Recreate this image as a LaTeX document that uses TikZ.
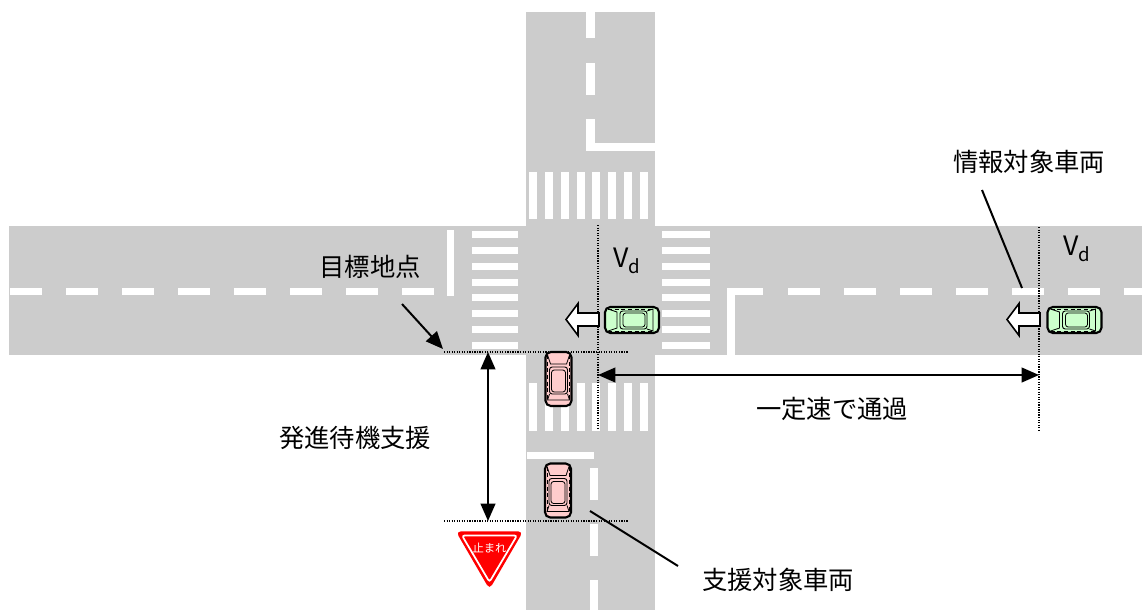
\documentclass[tikz,border=0pt]{standalone}
\usepackage{fontspec}
\newfontfamily\jpfont{Noto Sans CJK JP}
\usetikzlibrary{arrows.meta}

\definecolor{roadgray}{HTML}{CCCCCC}
\definecolor{cargreen}{HTML}{CCFFCC}
\definecolor{carpink}{HTML}{FFCCCC}
\definecolor{signred}{HTML}{FF0000}

\tikzset{
  paint/.style={fill=white},
  guide/.style={densely dotted,line width=0.9pt},
  dimline/.style={line width=1.5pt,{Triangle[length=13pt,width=11pt]}-{Triangle[length=13pt,width=11pt]}},
  leader/.style={line width=1.5pt},
  jlabel/.style={font=\jpfont\fontsize{19}{22}\selectfont,inner sep=0pt},
  vlabel/.style={font=\jpfont\fontsize{20}{24}\selectfont,inner sep=0pt},
  % car seen from above, front pointing to -x
  pics/car/.style={code={
    \draw[line width=1.6pt,fill=#1,rounded corners=4pt] (-27,-13) rectangle (27,13);
    \draw[line width=0.6pt] (-24,-11) -- (-15,-8) -- (-15,8) -- (-24,11);
    \draw[line width=0.7pt,rounded corners=2pt] (-12,-9) rectangle (15,9);
    \draw[line width=0.6pt,rounded corners=2pt] (-9,-7) rectangle (13,7);
    \draw[line width=0.6pt] (15,-9) -- (21,-11) -- (21,11) -- (15,9);
    \draw[line width=0.5pt,densely dashed] (-24,-11) -- (21,-11) (-24,11) -- (21,11);
  }},
  % hollow arrow showing the direction of travel
  pics/flowarrow/.style={code={
    \filldraw[fill=white,line width=1.2pt,line join=miter]
      (0,-6.5) -- (-21,-6.5) -- (-21,-16) -- (-33,0) -- (-21,16) -- (-21,6.5) -- (0,6.5) -- cycle;
  }}
}

\begin{document}
\begin{tikzpicture}[x=0.75pt,y=-0.75pt]
\useasboundingbox (0,0) rectangle (1142,610);

% roads
\fill[roadgray] (9,226) rectangle (1142,355);
\fill[roadgray] (526,12) rectangle (655,610);

% centre lines, west and east
\foreach \x in {10,66,...,402}
  \fill[paint] (\x,288) rectangle +(32,7);
\foreach \x in {788,844,...,1068}
  \fill[paint] (\x,288) rectangle +(32,7);
\fill[paint] (1124,288) rectangle (1142,295);
\fill[paint] (447,230) rectangle (454,296);
\fill[paint] (727,288) rectangle (735,355);
\fill[paint] (727,288) rectangle (763,295);

% centre lines, north and south
\fill[paint] (586,12) rectangle (595,38);
\fill[paint] (586,63) rectangle (595,95);
\fill[paint] (586,119) rectangle (595,151);
\fill[paint] (586,143) rectangle (655,151);
\fill[paint] (527,452) rectangle (594,459);
\foreach \y in {468,524}
  \fill[paint] (590,\y) rectangle +(8,32);
\fill[paint] (590,580) rectangle (598,610);

% crosswalks
\foreach \i in {0,...,7} {
  \fill[paint] (529+15.86*\i,172) rectangle +(8,47);
  \fill[paint] (529+15.86*\i,383) rectangle +(8,48);
  \fill[paint] (472,231+15.86*\i) rectangle +(46,7);
  \fill[paint] (662,231+15.86*\i) rectangle +(48,7);
}

% guide lines
\draw[guide] (598,225) -- (598,430);
\draw[guide] (1039,227) -- (1039,430);
\draw[guide] (444,352) -- (628,352);
\draw[guide] (444,521) -- (628,521);

% vehicles
\pic at (632,320) {car=cargreen};
\pic at (1074.5,320) {car=cargreen};
\pic at (599,319.5) {flowarrow};
\pic at (1040,319.5) {flowarrow};
\pic[rotate=-90] at (558.5,379) {car=carpink};
\pic[rotate=-90] at (558,490.5) {car=carpink};

\node[vlabel] (vnear) at (627,261) {V\textsubscript{d}};
\node[vlabel] (vfar) at (1077,249) {V\textsubscript{d}};

% stop sign
\filldraw[fill=signred,draw=signred,line width=1pt,rounded corners=3pt]
  (457,532) -- (522,532) -- (489.5,588) -- cycle;
\draw[white,line width=1.3pt,rounded corners=2pt]
  (462,535.5) -- (517,535.5) -- (489.5,582) -- cycle;
\node[font=\jpfont\fontsize{8.5}{10}\selectfont,text=white,inner sep=0pt] (stopsign) at (489.5,548) {止まれ};

% distances
\coordinate (holdtop) at (488,352);
\coordinate (holdbot) at (488,521);
\coordinate (passA) at (598,375);
\coordinate (passB) at (1039,375);
\draw[dimline] (holdtop) -- (holdbot);
\draw[dimline] (passA) -- (passB);

% labels
\node[jlabel] (target) at (370,267) {目標地点};
\node[jlabel] (hold) at (355,438) {発進待機支援};
\node[jlabel] (pass) at (832,409) {一定速で通過};
\node[jlabel] (info) at (1029,162) {情報対象車両};
\node[jlabel] (assist) at (778,580) {支援対象車両};

\coordinate (targetA) at (402,304);
\coordinate (targetB) at (443,349);
\coordinate (infoA) at (982,190);
\coordinate (infoB) at (1022,288);
\coordinate (assistA) at (590,511);
\coordinate (assistB) at (678,566);
\draw[leader,-{Triangle[length=13pt,width=11pt]}] (targetA) -- (targetB);
\draw[leader] (infoA) -- (infoB);
\draw[leader] (assistA) -- (assistB);
\end{tikzpicture}
\end{document}
